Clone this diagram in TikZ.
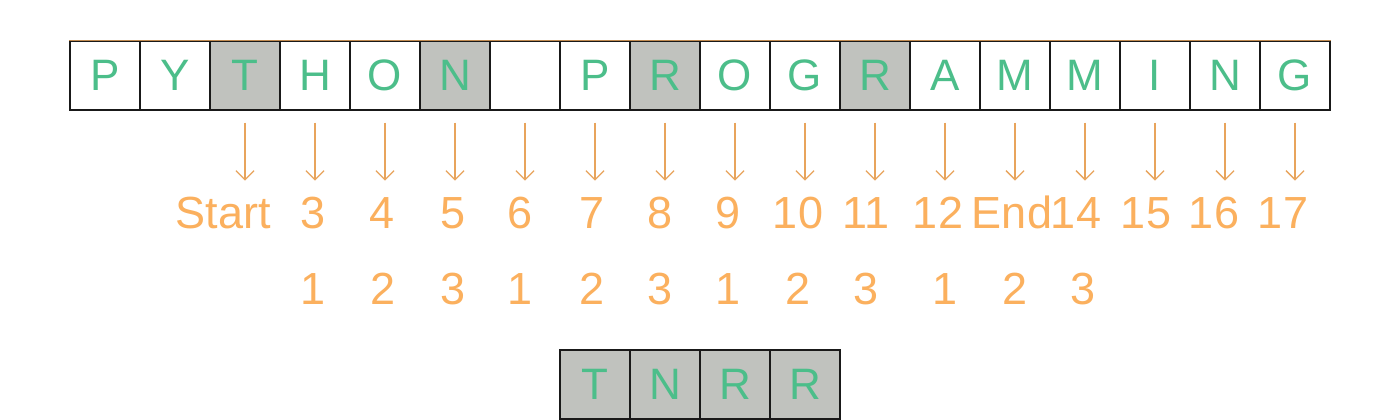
\documentclass[tikz,border=0pt]{standalone}
\usepackage{fontspec}
\setmainfont{Liberation Sans}
\usetikzlibrary{arrows.meta}
\definecolor{lgreen}{HTML}{4CBE8A}
\definecolor{lorange}{HTML}{FBB05E}
\definecolor{larrow}{HTML}{E8A45C}
\definecolor{lgray}{HTML}{C0C2BE}
\definecolor{ltop}{HTML}{C08A50}
\tikzset{
  cell/.style={draw=black!90, line width=1.2pt, minimum width=70pt, minimum height=69pt, inner sep=0pt, text=lgreen, font=\fontsize{44}{44}\selectfont},
  hit/.style={cell, fill=lgray},
  lbl/.style={text=lorange, font=\fontsize{45}{45}\selectfont, inner sep=0pt, anchor=base},
  arr/.style={draw=larrow, line width=1.6pt, -{Straight Barb[length=9pt,width=18pt,line width=1.3pt]}}
}
\begin{document}
\begin{tikzpicture}[x=1pt,y=-1pt]
\useasboundingbox[fill=white] (0,0) rectangle (1400,420);
% top row
\foreach \c/\s [count=\i] in {P/cell,Y/cell,T/hit,H/cell,O/cell,N/hit,{}/cell,P/cell,R/hit,O/cell,G/cell,R/hit,A/cell,M/cell,M/cell,I/cell,N/cell,G/cell}{
  \node[\s] (b\i) at ({70+70*(\i-1)+35},75.5) {\c};
}
\draw[ltop, line width=1.2pt] (b1.north west) -- (b18.north east);
% arrows and labels
\foreach \i/\t/\x in {3/Start/223,4/3/313,5/4/382,6/5/453,7/6/520,8/7/592,9/8/660,10/9/728,11/10/798,12/11/866,13/12/938,14/End/1012,15/14/1076,16/15/1146,17/16/1214,18/17/1283}{
  \coordinate (a\i) at ([yshift=-12pt]b\i.south);
  \coordinate (e\i) at ([yshift=-70pt]b\i.south);
  \draw[arr] (a\i) -- (e\i);
  \node[lbl] (l\i) at (\x,228) {\t};
}
% counter row
\foreach \i/\t/\x in {4/1/313,5/2/383,6/3/453,7/1/520,8/2/592,9/3/660,10/1/728,11/2/798,12/3/866,13/1/945,14/2/1015,15/3/1083}{
  \node[lbl] (n\i) at (\x,304) {\t};
}
% result row
\foreach \c [count=\i] in {T,N,R,R}{
  \node[hit] (r\i) at ({560+70*(\i-1)+35},384.5) {\c};
}
\end{tikzpicture}
\end{document}
